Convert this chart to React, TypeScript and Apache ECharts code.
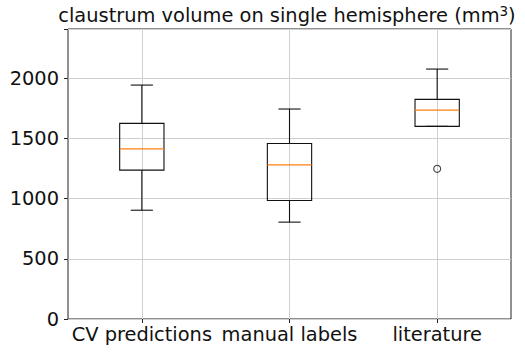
import React, { useEffect, useRef } from 'react';
import * as echarts from 'echarts';

const categories = ['CV predictions', 'manual labels', 'literature'];
const whiskerLow = [904, 805, 1601];
const quartile1 = [1237, 985, 1601];
const medians = [1414, 1281, 1736];
const quartile3 = [1626, 1459, 1825];
const whiskerHigh = [1944, 1745, 2077];
const outlierCategory = ['literature'];
const outlierValues = [1248];
const yMin = 0;
const yMax = 2410;
const yInterval = 500;

const FONT = 'DejaVu Sans';
const FS = 19.4;

export default function App() {
  const ref = useRef<HTMLDivElement>(null);
  useEffect(() => {
    if (!ref.current) return;
    document.body.style.margin = '0';
    const chart = echarts.init(ref.current, undefined, { renderer: 'svg' });
    const boxData = categories.map((_, i) => [
      i,
      whiskerLow[i],
      quartile1[i],
      medians[i],
      quartile3[i],
      whiskerHigh[i],
    ]);
    const outlierData = outlierCategory.map((c, i) => [c, outlierValues[i]]);
    const option: any = {
      animation: false,
      backgroundColor: '#fff',
      textStyle: { fontFamily: FONT },
      grid: {
        left: 68,
        right: 14,
        top: 29,
        bottom: 34,
        show: true,
        borderColor: '#222',
        borderWidth: 1,
        backgroundColor: 'transparent',
      },
      graphic: [
        {
          type: 'text',
          x: 287,
          y: 15,
          z: 10,
          style: {
            text: 'claustrum volume on single hemisphere (mm{sup|3})',
            align: 'center',
            verticalAlign: 'middle',
            fontFamily: FONT,
            fontSize: FS,
            fill: '#111',
            rich: {
              sup: {
                fontFamily: FONT,
                fontSize: 13.5,
                fill: '#111',
                padding: [0, 0, 9, 0],
              },
            },
          },
        },
      ],
      xAxis: {
        type: 'category',
        data: categories,
        boundaryGap: true,
        axisLine: { show: false },
        axisTick: { show: true, alignWithLabel: true, length: 4, lineStyle: { color: '#222' } },
        axisLabel: { color: '#111', fontFamily: FONT, fontSize: FS, margin: 6, interval: 0 },
        splitLine: { show: false },
      },
      yAxis: {
        type: 'value',
        min: yMin,
        max: yMax,
        interval: yInterval,
        axisLine: { show: false },
        axisTick: { show: true, length: 4, lineStyle: { color: '#222' } },
        axisLabel: {
          color: '#111',
          fontFamily: FONT,
          fontSize: FS,
          margin: 9,
          formatter: (v: number) => (v % yInterval === 0 ? String(v) : ''),
        },
        splitLine: { show: true, lineStyle: { color: '#cfcfcf', width: 1 } },
      },
      series: [
        {
          type: 'custom',
          z: 3,
          encode: { x: 0, y: [1, 2, 3, 4, 5] },
          data: boxData,
          renderItem: (params: any, api: any) => {
            const xi = api.value(0);
            const lo = api.coord([xi, api.value(1)]);
            const b1 = api.coord([xi, api.value(2)]);
            const md = api.coord([xi, api.value(3)]);
            const b3 = api.coord([xi, api.value(4)]);
            const hi = api.coord([xi, api.value(5)]);
            const band = api.size([1, 0])[0];
            const bw = band * 0.3;
            const cw = bw / 2;
            const cx = lo[0];
            const st = { stroke: '#111', lineWidth: 1.1, fill: 'none' };
            return {
              type: 'group',
              children: [
                { type: 'line', shape: { x1: cx, y1: b1[1], x2: cx, y2: lo[1] }, style: st },
                { type: 'line', shape: { x1: cx, y1: b3[1], x2: cx, y2: hi[1] }, style: st },
                { type: 'line', shape: { x1: cx - cw / 2, y1: lo[1], x2: cx + cw / 2, y2: lo[1] }, style: st },
                { type: 'line', shape: { x1: cx - cw / 2, y1: hi[1], x2: cx + cw / 2, y2: hi[1] }, style: st },
                {
                  type: 'rect',
                  shape: { x: cx - bw / 2, y: b3[1], width: bw, height: b1[1] - b3[1] },
                  style: st,
                },
                {
                  type: 'line',
                  shape: { x1: cx - bw / 2, y1: md[1], x2: cx + bw / 2, y2: md[1] },
                  style: { stroke: '#ff7f0e', lineWidth: 1.4 },
                },
              ],
            };
          },
        },
        {
          type: 'scatter',
          z: 3,
          data: outlierData,
          symbol: 'circle',
          symbolSize: 7,
          itemStyle: { color: 'transparent', borderColor: '#111', borderWidth: 1.1 },
          markLine: {
            silent: true,
            symbol: ['none', 'none'],
            label: { show: false },
            z: 1,
            lineStyle: { color: '#cfcfcf', width: 1, type: 'solid' },
            data: categories.map((c) => ({ xAxis: c })),
          },
        },
      ],
    };
    chart.setOption(option);
    return () => chart.dispose();
  }, []);
  return <div ref={ref} style={{ width: 525, height: 353 }} />;
}
